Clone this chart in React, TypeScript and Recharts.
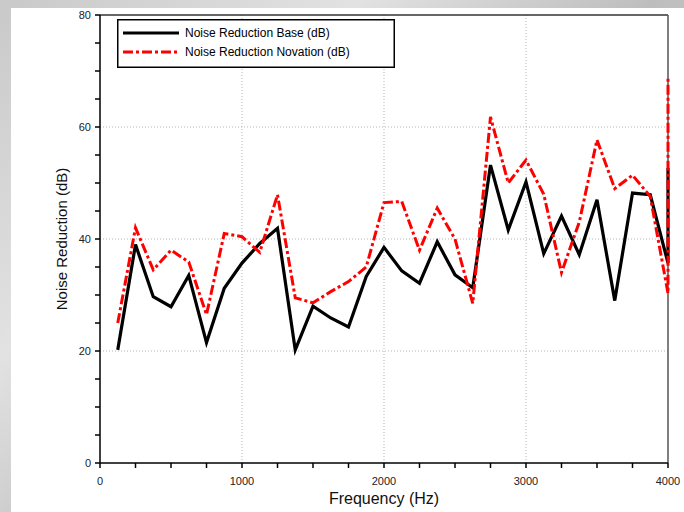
import React from 'react';
import { LineChart, Line, XAxis, YAxis, CartesianGrid, ReferenceLine, Label } from 'recharts';

const freqHz = [125, 250, 375, 500, 625, 750, 875, 1000, 1125, 1250, 1375, 1500, 1625, 1750, 1875, 2000, 2125, 2250, 2375, 2500, 2625, 2750, 2875, 3000, 3125, 3250, 3375, 3500, 3625, 3750, 3875, 4000, 4000];
const baseDb = [20.2, 39.0, 29.7, 27.9, 33.5, 21.5, 31.2, 35.7, 39.2, 41.9, 20.2, 28.0, 25.9, 24.3, 33.3, 38.5, 34.3, 32.1, 39.5, 33.6, 31.3, 53.2, 41.6, 50.2, 37.4, 44.1, 37.2, 47.0, 29.0, 48.2, 47.9, 35.7, 52.7];
const novationDb = [25.0, 42.0, 34.5, 38.0, 35.9, 26.5, 41.0, 40.4, 37.6, 47.9, 29.5, 28.6, 30.6, 32.4, 35.0, 46.5, 46.7, 38.0, 45.5, 40.0, 28.5, 61.8, 50.0, 54.1, 48.0, 34.0, 43.0, 57.7, 49.0, 51.4, 47.6, 30.3, 69.0];

const xTicks = [0, 250, 500, 750, 1000, 1250, 1500, 1750, 2000, 2250, 2500, 2750, 3000, 3250, 3500, 3750, 4000];
const yTicks = [0, 5, 10, 15, 20, 25, 30, 35, 40, 45, 50, 55, 60, 65, 70, 75, 80];
const xMajor = [1000, 2000, 3000];
const yMajor = [20, 40, 60];
const seriesNames = ['Noise Reduction Base (dB)', 'Noise Reduction Novation (dB)'];

const data = freqHz.map((f, i) => ({ f, base: baseDb[i], nov: novationDb[i] }));

const FONT = '"Liberation Sans", Arial, sans-serif';

const LegendBox = () => (
  <svg width={278} height={49} style={{ display: 'block' }}>
    <rect x={0.75} y={0.75} width={276.5} height={47.5} fill="#fff" stroke="#000" strokeWidth={1.5} />
    <line x1={6} y1={14} x2={62} y2={14} stroke="#000" strokeWidth={3} />
    <line x1={6} y1={33} x2={62} y2={33} stroke="#ff0000" strokeWidth={3} strokeDasharray="10 3 3 3" />
    <text x={68} y={18} fontFamily={FONT} fontSize={12} fill="#000">{seriesNames[0]}</text>
    <text x={68} y={37} fontFamily={FONT} fontSize={12} fill="#000">{seriesNames[1]}</text>
  </svg>
);

export default function App() {
  return (
    <div style={{ position: 'absolute', left: 0, top: 0, width: 684, height: 512, overflow: 'hidden',
      background: 'linear-gradient(135deg, #c9c9c9 0%, #e2e2e2 30%, #bdbdbd 55%, #d8d8d8 80%, #c4c4c4 100%)' }}>
      <div style={{ position: 'absolute', left: 11, top: 8, width: 673, height: 504, background: '#fff' }} />
      <div style={{ position: 'absolute', left: 0, top: 0 }}>
        <LineChart width={684} height={512} data={data} margin={{ top: 15, right: 16, bottom: 0, left: 0 }}>
          <CartesianGrid stroke="#b5b5b5" strokeDasharray="1 2" horizontalValues={yMajor} verticalValues={xMajor} />
          <XAxis dataKey="f" type="number" domain={[0, 4000]} ticks={xTicks} interval={0} height={49}
            tickFormatter={(v: number) => (v % 1000 === 0 ? String(v) : '')}
            stroke="#000" strokeWidth={1.5} tickSize={5} tickMargin={9}
            tick={{ fontFamily: FONT, fontSize: 11, fill: '#222' }}>
            <Label value="Frequency (Hz)" position="insideBottom" offset={8} style={{ fontFamily: FONT, fontSize: 16, fill: '#111' }} />
          </XAxis>
          <YAxis type="number" domain={[0, 80]} ticks={yTicks} interval={0} width={100}
            tickFormatter={(v: number) => (v % 20 === 0 ? String(v) : '')}
            stroke="#000" strokeWidth={1.5} tickSize={5} tickMargin={4}
            tick={{ fontFamily: FONT, fontSize: 11, fill: '#222' }}>
            <Label value="Noise Reduction (dB)" angle={-90} position="insideLeft" offset={62}
              style={{ fontFamily: FONT, fontSize: 15, fill: '#111', textAnchor: 'middle' }} />
          </YAxis>
          <ReferenceLine y={80} stroke="#333" strokeWidth={1.5} />
          <ReferenceLine x={4000} stroke="#555" strokeWidth={1.5} />
          <Line dataKey="base" name={seriesNames[0]} type="linear" stroke="#000" strokeWidth={3.2} dot={false} isAnimationActive={false} />
          <Line dataKey="nov" name={seriesNames[1]} type="linear" stroke="#ff0000" strokeWidth={3} strokeDasharray="10 3 3 3" dot={false} isAnimationActive={false} />
        </LineChart>
      </div>
      <div style={{ position: 'absolute', left: 117, top: 19 }}>
        <LegendBox />
      </div>
    </div>
  );
}
